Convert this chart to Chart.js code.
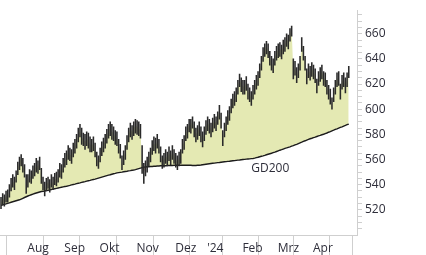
<!DOCTYPE html>
<html>
<head>
<meta charset="utf-8">
<script src="https://cdn.jsdelivr.net/npm/chart.js@4"></script>
<style>
  html, body { margin: 0; padding: 0; background: #fff; }
  #chart { display: block; }
</style>
</head>
<body>
<canvas id="chart" width="426" height="255"></canvas>
<script>
'use strict';

// trading days per month, Jul 2023 (partial) .. May 2024 (partial)
let monthNames = ['', 'Aug', 'Sep', 'Okt', 'Nov', 'Dez', "'24", 'Feb', 'Mrz', 'Apr', ''];
let tradingDays = [15, 22, 21, 22, 23, 19, 21, 21, 21, 22, 1];

let yLabels = [520, 540, 560, 580, 600, 620, 640, 660];

let closes = [
  526, 529, 528, 531, 530, 535, 540, 543, 541, 547,
  553, 558, 561, 556, 551, 535, 543, 547, 546, 550,
  552, 556, 554, 558, 546, 541, 535, 540, 542, 539,
  543, 541, 545, 544, 547, 552, 550, 556, 559, 562,
  566, 564, 563, 568, 571, 575, 580, 583, 578, 576,
  574, 577, 575, 572, 571, 573, 568, 561, 558, 564,
  569, 572, 575, 579, 583, 585, 582, 581, 578, 577,
  571, 567, 556, 562, 566, 574, 580, 584, 582, 585,
  587, 586, 585, 583, 556, 550, 553, 556, 561, 564,
  570, 573, 571, 575, 571, 564, 558, 560, 563, 561,
  565, 562, 566, 563, 560, 558, 561, 563, 571, 574,
  581, 583, 588, 587, 591, 584, 580, 582, 585, 580,
  576, 581, 586, 589, 587, 584, 588, 591, 589, 594,
  598, 591, 577, 584, 589, 594, 597, 603, 607, 609,
  612, 618, 624, 620, 618, 618, 621, 614, 612, 609,
  614, 618, 622, 625, 631, 637, 644, 648, 650, 647,
  641, 637, 635, 641, 645, 647, 648, 646, 650, 652,
  656, 654, 660, 664, 629, 633, 627, 631, 637, 652,
  645, 637, 626, 631, 629, 632, 630, 627, 618, 625,
  628, 630, 625, 624, 618, 614, 610, 603, 612, 618,
  624, 625, 614, 622, 624, 619, 624, 631
];

let highs = [
  530, 533, 532, 535, 536, 540, 545, 548, 546, 551,
  558, 562, 564, 561, 556, 548, 548, 552, 551, 555,
  557, 561, 559, 562, 553, 546, 542, 545, 546, 544,
  548, 546, 549, 550, 552, 557, 556, 561, 565, 567,
  571, 569, 568, 573, 576, 580, 585, 588, 585, 581,
  580, 582, 581, 578, 576, 578, 573, 566, 563, 569,
  574, 577, 580, 584, 588, 590, 588, 586, 583, 582,
  576, 572, 563, 567, 571, 579, 585, 589, 587, 590,
  592, 591, 590, 588, 571, 557, 559, 562, 566, 569,
  575, 578, 577, 580, 576, 570, 563, 565, 568, 566,
  570, 567, 571, 568, 565, 563, 566, 568, 576, 579,
  586, 588, 592, 592, 594, 590, 585, 587, 590, 586,
  582, 586, 591, 594, 592, 589, 593, 596, 594, 598,
  603, 597, 583, 589, 594, 599, 602, 608, 612, 614,
  617, 623, 628, 625, 623, 623, 626, 620, 617, 614,
  619, 623, 627, 630, 636, 642, 649, 652, 654, 652,
  646, 642, 640, 646, 650, 652, 653, 651, 655, 657,
  660, 659, 664, 666, 640, 638, 633, 636, 642, 657,
  650, 642, 632, 636, 634, 637, 635, 632, 624, 630,
  633, 635, 630, 629, 623, 619, 616, 609, 617, 623,
  629, 630, 620, 627, 629, 625, 629, 634
];

let lows = [
  521, 524, 523, 526, 526, 530, 535, 538, 536, 542,
  548, 552, 555, 550, 546, 533, 538, 542, 541, 545,
  547, 550, 549, 552, 541, 536, 531, 535, 537, 534,
  538, 536, 540, 539, 542, 546, 545, 550, 554, 556,
  560, 559, 557, 562, 565, 569, 574, 578, 572, 571,
  568, 571, 569, 566, 566, 567, 562, 555, 553, 558,
  563, 566, 569, 573, 577, 579, 576, 575, 572, 571,
  565, 561, 552, 556, 560, 568, 574, 578, 576, 579,
  581, 580, 579, 577, 549, 541, 547, 550, 555, 558,
  564, 567, 565, 569, 565, 558, 553, 554, 557, 555,
  559, 556, 560, 557, 554, 552, 555, 557, 565, 568,
  575, 577, 582, 581, 585, 578, 574, 576, 579, 574,
  570, 575, 580, 583, 581, 578, 582, 585, 583, 588,
  592, 585, 571, 578, 583, 588, 591, 597, 601, 603,
  606, 612, 618, 614, 612, 612, 615, 608, 606, 603,
  608, 612, 616, 619, 625, 631, 638, 642, 644, 641,
  635, 631, 629, 635, 639, 641, 642, 640, 644, 646,
  650, 648, 654, 658, 624, 627, 621, 625, 631, 646,
  639, 631, 620, 625, 623, 626, 624, 621, 613, 619,
  622, 624, 619, 618, 612, 608, 604, 600, 606, 612,
  618, 619, 608, 616, 618, 613, 618, 625
];

let gd200 = [
  523.6, 524.0, 524.4, 524.8, 525.2, 525.6, 526.0, 526.4, 526.8, 527.2,
  527.6, 528.0, 528.6, 529.2, 529.8, 530.4, 531.0, 531.5, 532.0, 532.5,
  533.0, 533.4, 533.8, 534.2, 534.6, 534.8, 535.0, 535.3, 535.6, 535.9,
  536.2, 536.5, 536.8, 537.1, 537.4, 537.7, 538.0, 538.3, 538.6, 538.8,
  539.1, 539.4, 539.8, 540.1, 540.4, 540.8, 541.1, 541.4, 541.8, 542.1,
  542.4, 542.8, 543.1, 543.4, 543.8, 544.1, 544.4, 544.8, 545.2, 545.6,
  546.0, 546.4, 546.8, 547.2, 547.6, 547.9, 548.3, 548.7, 549.0, 549.4,
  549.6, 549.8, 550.0, 550.3, 550.5, 550.7, 551.0, 551.2, 551.5, 551.7,
  552.0, 552.4, 552.8, 553.2, 553.6, 554.0, 554.1, 554.2, 554.3, 554.4,
  554.5, 554.6, 554.7, 554.8, 554.9, 555.0, 555.0, 555.1, 555.1, 555.2,
  555.2, 555.3, 555.3, 555.4, 555.4, 555.4, 555.5, 555.5, 555.5, 555.5,
  555.5, 555.4, 555.4, 555.4, 555.3, 555.3, 555.3, 555.4, 555.5, 555.6,
  555.8, 556.0, 556.2, 556.4, 556.6, 556.8, 557.0, 557.1, 557.3, 557.5,
  557.6, 557.8, 558.0, 558.2, 558.3, 558.5, 558.6, 558.8, 559.0, 559.1,
  559.3, 559.5, 559.6, 559.8, 560.0, 560.1, 560.3, 560.4, 560.5, 560.7,
  560.8, 561.1, 561.5, 561.8, 562.2, 562.6, 562.9, 563.3, 563.8, 564.2,
  564.6, 565.0, 565.5, 565.9, 566.4, 566.9, 567.4, 567.8, 568.3, 568.8,
  569.2, 569.7, 570.1, 570.6, 571.0, 571.6, 572.1, 572.7, 573.3, 573.8,
  574.4, 574.9, 575.5, 576.0, 576.5, 576.9, 577.4, 577.8, 578.3, 578.8,
  579.2, 579.7, 580.1, 580.6, 581.1, 581.7, 582.2, 582.8, 583.3, 583.9,
  584.4, 585.0, 585.5, 586.0, 586.6, 587.1, 587.7, 588.2
];

const X_MIN = -0.6;
const X_MAX = 211.9;
const Y_MIN = 500;
const Y_MAX = 678.7;
const TEXT = '#2e2e3a';
const LINES = '#cfcfcf';

// month separators sit half a day before the first trading day of each month
let monthStarts = [];
let day = 0;
for (let i = 0; i < tradingDays.length - 1; i++) {
  day += tradingDays[i];
  monthStarts.push(day - 0.5);
}
// labels go right of the separator that opens the month
let sepLabels = monthNames.slice(1);

let closeData = closes.map((v, i) => ({ x: i, y: v }));
let gdData = gd200.map((v, i) => ({ x: i, y: v }));
let rangeData = highs.map((h, i) => ({ x: i, y: [lows[i], h] }));

const gdLabel = {
  id: 'gdLabel',
  afterDatasetsDraw(chart) {
    let ctx = chart.ctx;
    let xs = chart.scales.x;
    let ys = chart.scales.y;
    ctx.save();
    ctx.font = '12px "Open Sans"';
    ctx.fillStyle = TEXT;
    ctx.textAlign = 'left';
    ctx.textBaseline = 'middle';
    ctx.fillText('GD200', xs.getPixelForValue(149), ys.getPixelForValue(552.5));
    ctx.restore();
  }
};

let canvasElem = document.getElementById('chart');

new Chart(canvasElem, {
  data: {
    datasets: [
      {
        type: 'line',
        label: 'GD200',
        data: gdData,
        borderColor: '#1c1c1c',
        borderWidth: 1.4,
        pointRadius: 0,
        fill: false,
        order: 1
      },
      {
        type: 'line',
        label: 'Kurs',
        data: closeData,
        borderWidth: 0,
        borderColor: 'rgba(0,0,0,0)',
        pointRadius: 0,
        fill: { target: 0, above: '#e4e9b3', below: '#efc4b6' },
        order: 2
      },
      {
        type: 'bar',
        label: 'Spanne',
        data: rangeData,
        backgroundColor: '#2a2a2a',
        barThickness: 0.9,
        order: 0
      }
    ]
  },
  options: {
    responsive: false,
    animation: false,
    layout: { padding: 0 },
    plugins: {
      legend: { display: false },
      tooltip: { enabled: false }
    },
    scales: {
      x: {
        type: 'linear',
        min: X_MIN,
        max: X_MAX,
        offset: false,
        afterBuildTicks: s => {
          s.ticks = monthStarts.map(v => ({ value: v })).concat([{ value: X_MAX }]);
        },
        afterFit: s => { s.height = 20; },
        ticks: {
          autoSkip: false,
          maxRotation: 0,
          align: 'start',
          labelOffset: 2,
          padding: -14,
          color: TEXT,
          font: { family: 'Open Sans', size: 12 },
          callback: (v, i) => sepLabels[i] || ''
        },
        grid: { drawOnChartArea: false, tickLength: 20, color: LINES },
        border: { color: LINES }
      },
      y: {
        position: 'right',
        min: Y_MIN,
        max: Y_MAX,
        afterBuildTicks: s => {
          let t = [];
          for (let v = Y_MIN + 5; v < Y_MAX; v += 5) t.push({ value: v });
          s.ticks = t;
        },
        afterFit: s => { s.width = 69; },
        ticks: {
          autoSkip: false,
          padding: 3,
          color: TEXT,
          font: { family: 'Open Sans', size: 12 },
          callback: v => yLabels.includes(v) ? String(v) : ''
        },
        grid: { drawOnChartArea: false, tickLength: 5, color: LINES },
        border: { color: LINES }
      }
    }
  },
  plugins: [gdLabel]
});
</script>
</body>
</html>
